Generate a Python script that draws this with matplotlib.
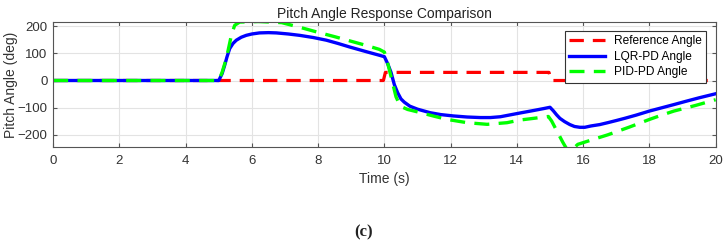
import matplotlib.pyplot as plt

plt.rcParams['font.family'] = ['Liberation Sans', 'DejaVu Sans']

# reference angle (deg)
t_ref = [0, 9.97, 10.03, 14.97, 15.03, 20]
ref = [0, 0, 30, 30, 0, 0]

# LQR-PD response
t_lqr = [0, 5.0, 5.1, 5.18, 5.25, 5.33, 5.43, 5.53, 5.68, 5.83, 6.0, 6.23, 6.5,
         6.74, 7.1, 7.44, 7.85, 8.25, 8.6, 8.95, 9.5, 9.8, 10.0,
         10.1, 10.2, 10.3, 10.4, 10.5, 10.6, 10.77, 11.0, 11.38, 11.7, 12.08,
         12.5, 12.9, 13.2, 13.5, 13.8, 14.1, 14.5, 14.8, 15.0,
         15.1, 15.2, 15.3, 15.44, 15.6, 15.74, 15.9, 16.05, 16.24, 16.5, 16.74,
         17.0, 17.25, 17.6, 18.0, 18.37, 18.74, 19.1, 19.5, 20.0]
lqr = [0, 0, 25, 57, 88, 118, 137, 149, 160, 167, 172, 176, 177,
       176, 172, 167, 159, 149, 137, 124, 105, 95, 88,
       62, 30, -15, -45, -68, -80, -95, -106, -119, -126, -131,
       -135, -137, -137, -134, -127, -120, -111, -104, -99,
       -112, -127, -140, -152, -163, -170, -173, -173, -168, -163, -156,
       -148, -140, -128, -113, -101, -89, -77, -64, -49]

# PID-PD response
t_pid = [0, 5.0, 5.1, 5.23, 5.38, 5.48, 5.63, 6.2, 6.9, 7.5, 8.0, 8.5, 9.0,
         9.5, 9.85, 10.0, 10.1, 10.25, 10.35, 10.48, 10.7, 11.1, 11.5, 11.9,
         12.5, 13.1, 13.7, 14.1, 14.5, 14.95,
         15.05, 15.2, 15.39, 15.5, 15.7, 15.84, 16.3, 16.74, 17.4, 18.0,
         18.37, 18.74, 19.4, 20.0]
pid = [0, 0, 30, 82, 167, 204, 216, 218, 214, 195, 178, 162, 145,
       128, 115, 105, 64, -10, -60, -95, -107, -119, -132, -144,
       -156, -162, -156, -146, -140, -133,
       -150, -185, -229, -252, -252, -236, -218, -201, -172, -144,
       -128, -113, -92, -71]

fig = plt.figure(figsize=(7.28, 2.43), dpi=100)
ax = fig.add_axes([0.073, 0.396, 0.910, 0.512])

ax.plot(t_ref, ref, color='#ff0000', lw=2.3, dashes=(4.5, 2.8), label='Reference Angle')
ax.plot(t_lqr, lqr, color='#0000ff', lw=2.4, label='LQR-PD Angle')
ax.plot(t_pid, pid, color='#00ff00', lw=2.4, dashes=(4.5, 2.8), label='PID-PD Angle')

ax.set_xlim(0, 20)
ax.set_ylim(-245, 215)
ax.set_xticks(range(0, 21, 2))
ax.set_yticks([-200, -100, 0, 100, 200])
ax.grid(True, color='#e3e3e3', lw=0.8)
ax.tick_params(direction='in', top=True, right=True, labelsize=9.5,
               colors='#555555', labelcolor='#333333', length=3, pad=4)
ax.tick_params(axis='x', pad=6)
for s in ax.spines.values():
    s.set_color('#555555')
    s.set_linewidth(0.8)

ax.set_title('Pitch Angle Response Comparison', fontsize=10, color='#222222', pad=3)
ax.set_xlabel('Time (s)', fontsize=10, color='#333333')
ax.set_ylabel('Pitch Angle (deg)', fontsize=10, color='#333333')
ax.xaxis.set_label_coords(0.5, -0.2)
ax.yaxis.set_label_coords(-0.053, 0.5)

leg = ax.legend(loc='upper right', fontsize=8.6, handlelength=3.0, borderpad=0.35,
                labelspacing=0.3, fancybox=False, framealpha=1, borderaxespad=0,
                bbox_to_anchor=(0.986, 0.93))
leg.get_frame().set_edgecolor('#333333')
leg.get_frame().set_linewidth(0.8)

fig.text(0.499, 0.045, '(c)', ha='center', va='center', fontsize=12,
         fontweight='bold', family=['Liberation Serif', 'DejaVu Serif'],
         color='#222222')

fig.savefig('out.png', dpi=100)
